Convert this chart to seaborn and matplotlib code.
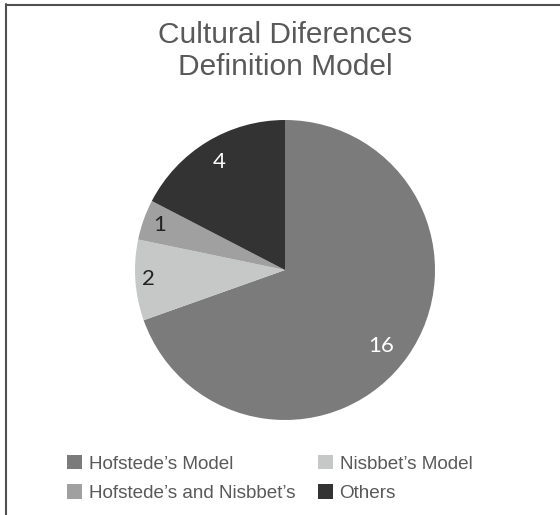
import numpy as np
import matplotlib
matplotlib.use("Agg")
import matplotlib.pyplot as plt
from matplotlib.lines import Line2D
from matplotlib.patches import Patch
import seaborn as sns

categories = ["Hofstede\u2019s Model", "Nisbbet\u2019s Model", "Hofstede\u2019s and Nisbbet\u2019s", "Others"]
values = [16, 2, 1, 4]
colors = ["#7b7b7b", "#c6c8c8", "#a0a0a0", "#333333"]
label_colors = ["white", "#222222", "#222222", "white"]
label_radius = [0.82, 0.91, 0.89, 0.84]
title_lines = ["Cultural Diferences", "Definition Model"]

sns.set_theme(style="white")
plt.rcParams['font.family'] = ['Liberation Sans', 'DejaVu Sans']

W, H = 560, 515
fig = plt.figure(figsize=(W / 100, H / 100), dpi=100)
fig.patch.set_facecolor("white")

cx, cy, r = 285, 270, 150
ax = fig.add_axes([(cx - r) / W, (H - cy - r) / H, 2 * r / W, 2 * r / H])
palette = sns.color_palette(colors)

wedges, texts, autotexts = ax.pie(
    values, colors=palette, startangle=90, counterclock=False,
    autopct=lambda p: f"{p * sum(values) / 100:.0f}", pctdistance=0.84,
    wedgeprops=dict(linewidth=0), textprops=dict(fontsize=16, family=['Lato', 'DejaVu Sans']))
for w, t, c, rr in zip(wedges, autotexts, label_colors, label_radius):
    t.set_color(c)
    ang = np.deg2rad((w.theta1 + w.theta2) / 2 - 3 * (w.theta2 - w.theta1 > 180))
    t.set_position((rr * np.cos(ang), rr * np.sin(ang)))
ax.set_xlim(-1, 1)
ax.set_ylim(-1, 1)
ax.set_aspect("equal")
ax.axis("off")

for line, yb in zip(title_lines, [43, 75]):
    fig.text(cx / W, 1 - yb / H, line, ha="center", va="baseline", fontsize=21.5,
             color="#595959")

handles = [Patch(facecolor=c, edgecolor="none") for c in colors]
# row-wise order for a 2-column legend (matplotlib fills column-wise)
lh = [handles[0], handles[2], handles[1], handles[3]]
ll = [categories[0], categories[2], categories[1], categories[3]]
fig.legend(lh, ll, ncol=2, loc="upper left",
           bbox_to_anchor=(50 / W, 1 - 438 / H), frameon=False, fontsize=13.6,
           labelcolor="#595959", handlelength=0.8, handleheight=0.8,
           handletextpad=0.35, columnspacing=1.2, labelspacing=0.6)

fig.add_artist(Line2D([5.5 / W, 5.5 / W], [0, 1 - 4 / H], transform=fig.transFigure,
                      color="#505050", lw=1.5))
fig.add_artist(Line2D([5.5 / W, 1], [1 - 4.5 / H, 1 - 4.5 / H], transform=fig.transFigure,
                      color="#505050", lw=1.5))

fig.savefig("out.png", dpi=100)
